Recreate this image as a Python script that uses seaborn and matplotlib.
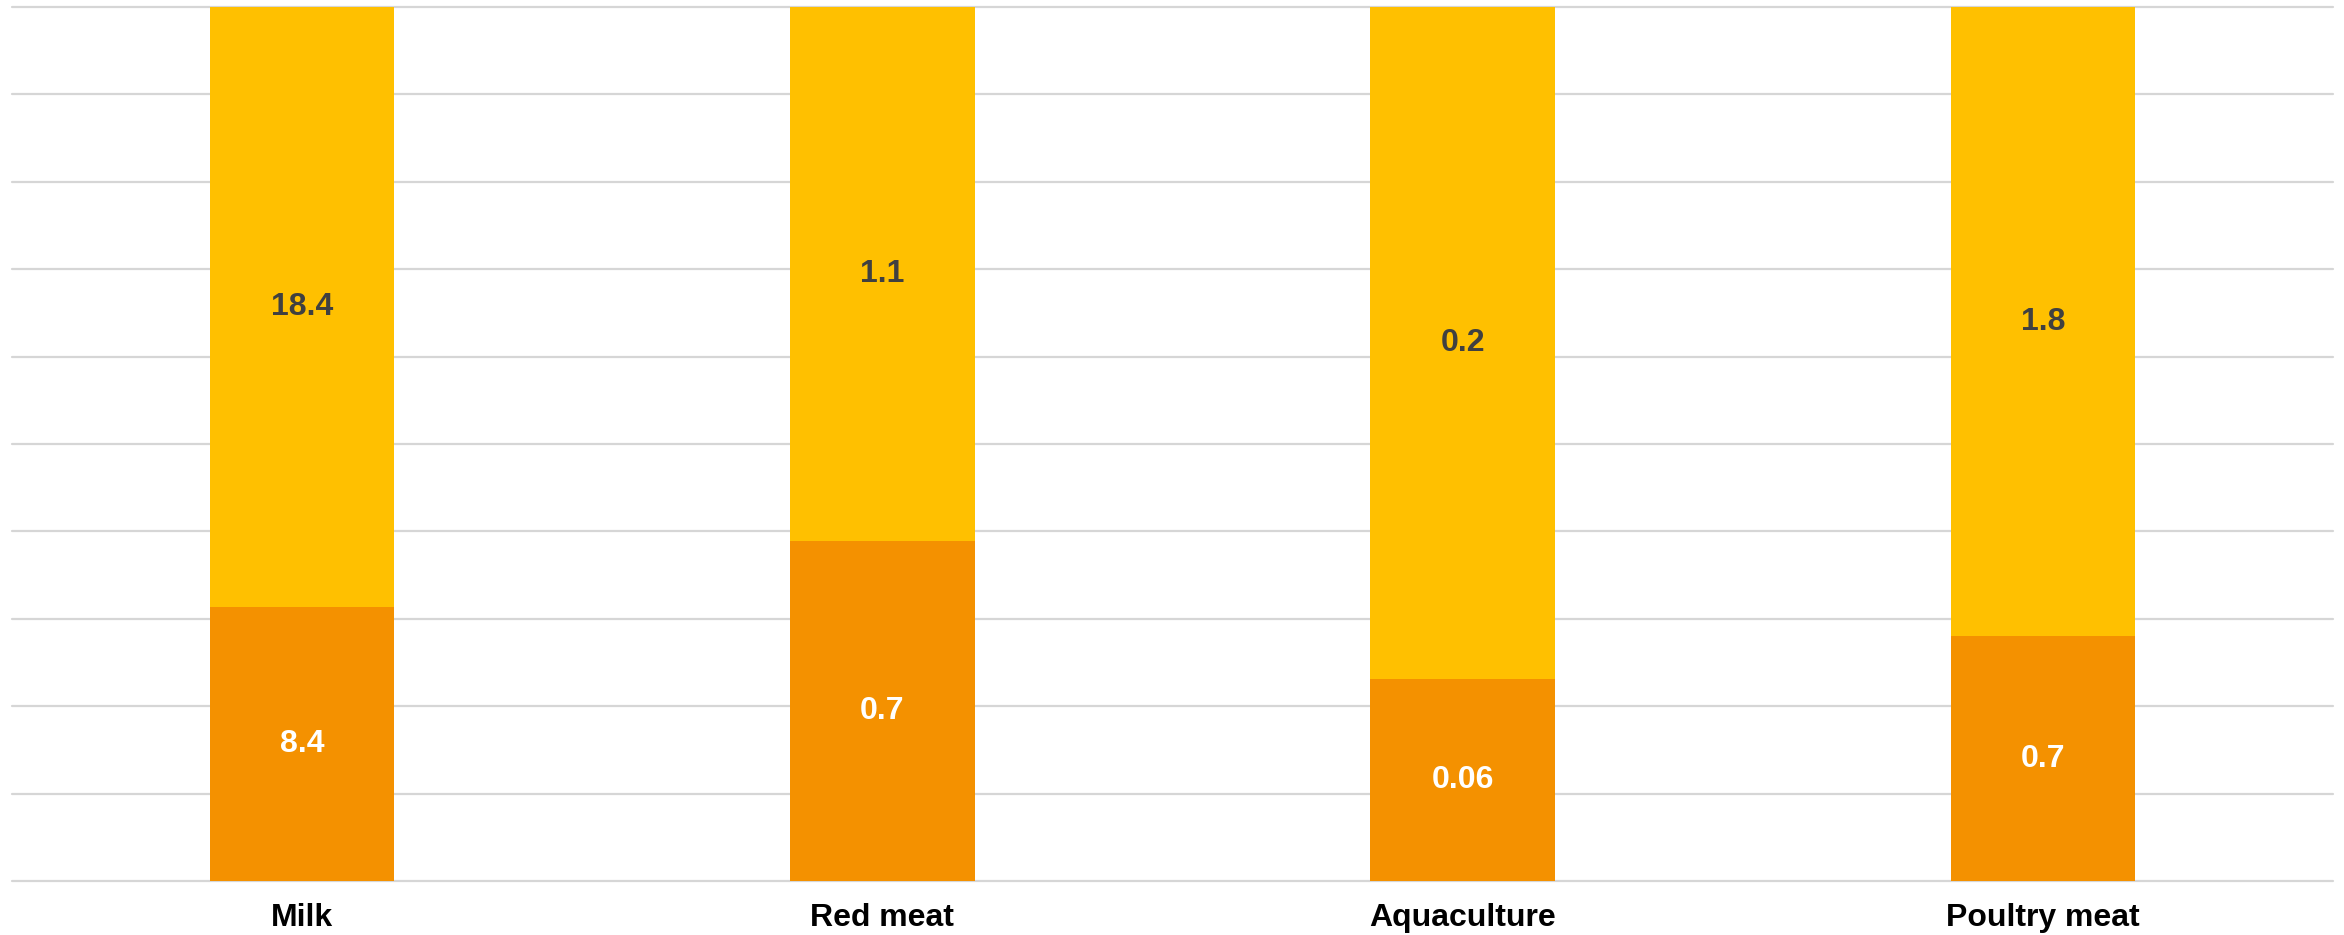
import matplotlib
matplotlib.use("Agg")
import matplotlib.pyplot as plt
import seaborn as sns
import pandas as pd

# Food categories and the two stacked components (shown as share of each bar)
categories = ["Milk", "Red meat", "Aquaculture", "Poultry meat"]
lower_values = [8.4, 0.7, 0.06, 0.7]
upper_values = [18.4, 1.1, 0.2, 1.8]
lower_labels = ["8.4", "0.7", "0.06", "0.7"]
upper_labels = ["18.4", "1.1", "0.2", "1.8"]

ORANGE = "#F49100"
YELLOW = "#FFC000"

df = pd.DataFrame({"category": categories, "lower": lower_values, "upper": upper_values})
df["total"] = df["lower"] + df["upper"]
df["lower_pct"] = df["lower"] / df["total"] * 100
df["full_pct"] = 100.0

sns.set_theme(style="white")
plt.rcParams["font.family"] = ["Liberation Sans", "DejaVu Sans"]

fig = plt.figure(figsize=(23.44, 9.35), dpi=100)
ax = fig.add_axes([12 / 2344, 54 / 935, 2321 / 2344, 874 / 935])

bar_w = 0.318
sns.barplot(data=df, x="category", y="full_pct", color=YELLOW, saturation=1,
            width=bar_w, ax=ax, linewidth=0)
sns.barplot(data=df, x="category", y="lower_pct", color=ORANGE, saturation=1,
            width=bar_w, ax=ax, linewidth=0)

# Segment value labels
for i, row in df.iterrows():
    ax.text(i, row["lower_pct"] / 2, lower_labels[i], ha="center", va="center",
            color="white", fontsize=23, fontweight="bold")
    ax.text(i, (row["lower_pct"] + 100) / 2, upper_labels[i], ha="center", va="center",
            color="#404040", fontsize=23, fontweight="bold")

ax.set_ylim(0, 100)
ax.set_xlim(-0.5, len(categories) - 0.5)
ax.set_yticks(range(0, 101, 10))
ax.set_yticklabels([])
ax.tick_params(axis="y", length=0)
ax.tick_params(axis="x", length=0, pad=16)
ax.yaxis.grid(True, color="#D6D6D6", linewidth=1.6)
ax.set_axisbelow(True)
for line in ax.get_ygridlines():
    line.set_clip_on(False)
for s in ax.spines.values():
    s.set_visible(False)
ax.set_xlabel("")
ax.set_ylabel("")
for lbl in ax.get_xticklabels():
    lbl.set_fontsize(23)
    lbl.set_fontweight("bold")
    lbl.set_color("black")

fig.savefig("out.png", dpi=100, facecolor="white")
